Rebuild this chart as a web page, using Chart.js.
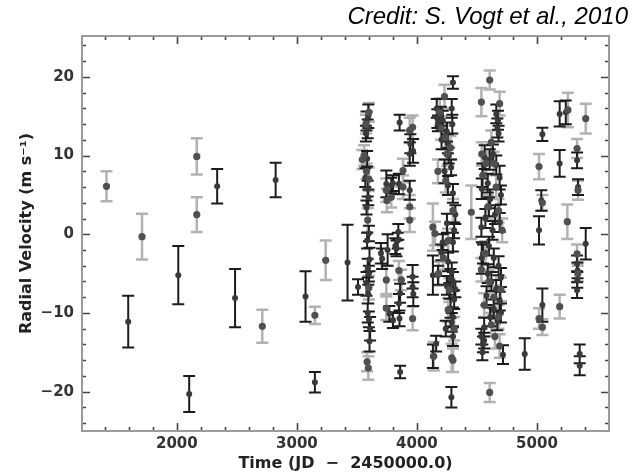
<!DOCTYPE html>
<html>
<head>
<meta charset="utf-8">
<script src="https://cdn.jsdelivr.net/npm/chart.js@4.4.1/dist/chart.umd.min.js"></script>
<style>
  html, body { margin: 0; padding: 0; background: #fff; }
  #wrap { width: 640px; height: 473px; position: relative; }
</style>
</head>
<body>
<div id="wrap"><canvas id="c" width="640" height="473"></canvas></div>
<script>
// ---- Data ----
const xTickValues = [2000, 3000, 4000, 5000];
const yTickValues = [-20, -10, 0, 10, 20];
const creditText = 'Credit: S. Vogt et al., 2010';
const xTitle = 'Time (JD  \u2212  2450000.0)';
const yTitle = 'Radial Velocity (m s\u207B\u00B9)';

// Series with light-gray error bars
const grayTime = [1414,1710,2166,2166,2712,3150,3240,
  3545,3560,3600,3580,3600,3590,3600,3585,3595,3575,
  3745,3750,3745,3745,3786,3850,3884,3884,3940,3940,3940,3964,3964,3870,
  4133,4140,4175,4190,4200,4230,4150,4235,4250,4240,4260,4270,4290,4300,4280,4300,4260,4310,4220,4180,
  4453,
  4537,4606,4689,4540,4550,4575,4620,4640,4660,4590,4680,4537,4570,4600,4640,4680,4620,4700,4560,4689,4606,4650,4710,
  5017,5045,5017,5045,5258,5189,5253,5406,5334,5342,5334,5340];
const grayRV = [6.1,-0.3,9.9,2.5,-11.7,-10.3,-3.3,
  9.5,10.0,15.5,8.0,7.0,1.8,-6.8,-16.2,-17.0,14.0,
  5.6,4.3,-5.8,-9.4,4.7,-4.6,8.1,6.0,13.2,3.5,1.8,-10.7,13.6,-5.8,
  0.9,-15.5,8.0,15.5,13.5,17.5,0.1,12.3,10.2,6.8,-0.8,-7.1,-15.7,-16.0,11.0,3.0,-9.6,-12.0,-3.0,-5.0,
  2.8,
  16.8,19.6,16.6,10.2,7.5,9.0,11.7,9.0,6.0,3.5,3.0,-4.5,-2.4,-6.0,-8.0,-10.5,-11.5,-7.0,-9.0,-14.2,-20.1,-13.0,0.5,
  8.6,4.0,-10.7,-11.8,15.8,-9.2,1.6,14.7,10.9,5.6,-2.5,-5.0];
const grayErr = [1.9,2.9,2.3,2.2,2.1,1.1,2.5,
  1.2,1.3,1.2,1.0,1.5,1.5,1.5,1.2,1.5,1.2,
  1.5,1.5,1.8,1.5,1.3,1.2,1.5,1.5,1.6,1.5,1.5,1.5,1.5,1.3,
  3.0,1.8,1.5,1.8,1.5,1.5,1.5,1.5,1.5,1.5,1.5,1.5,1.8,1.5,1.5,1.5,1.5,1.5,1.5,1.5,
  3.4,
  1.8,1.2,1.5,1.5,1.5,1.5,1.5,1.5,1.5,1.5,1.5,1.5,1.5,1.5,1.5,1.5,1.5,1.5,1.5,1.5,1.2,1.5,1.5,
  1.6,1.0,1.3,1.0,2.2,1.5,2.2,1.9,1.2,1.2,1.2,1.0];

// Series with black error bars
const darkTime = [1595,2012,2103,2336,2485,2823,3072,3150,3422,3509,
  3580,3590,3575,3595,3585,3570,3590,3595,3580,3600,3585,3605,3590,3600,3580,3595,3590,3600,3605,3610,
  3745,3756,3786,3800,3820,3856,3850,3845,3840,3830,3860,3850,3855,3860,3940,3945,3940,3964,3964,3970,3968,3770,3800,3700,3710,
  4133,4133,4160,4165,4170,4175,4200,4205,4215,4250,4258,4265,4230,4258,4300,4290,4295,4285,4300,4250,
  4203,4215,4300,4310,4175,4260,4290,4300,4270,4310,4280,4300,4290,4320,4250,4280,4300,4287,4320,4240,
  4537,4540,4545,4564,4590,4606,4610,4633,4661,4689,4700,4661,4675,4670,4680,4600,4650,4690,4570,4630,
  4550,4600,4640,4680,4700,4620,4660,4580,4690,4640,4610,4670,4560,4700,4590,4537,4550,4545,4560,4717,4540,
  4898,5045,5036,5017,5045,5189,5189,5240,5334,5342,5406,5334,5338,5336,5334,5356,5356];
const darkRV = [-11.1,-5.2,-20.3,6.1,-8.1,6.9,-7.9,-18.8,-3.6,-6.7,
  14.4,13.4,12.8,15.0,9.6,7.2,5.8,4.7,3.4,0.1,-0.8,-3.2,-4.3,-5.0,-6.3,-7.6,-10.0,-10.8,-13.6,-12.0,
  6.4,-2.0,6.2,6.5,-1.5,14.2,6.4,0.3,-0.8,-1.8,-7.5,-8.8,-10.7,-17.5,10.2,11.5,5.6,-5.4,-6.7,-7.6,10.6,-10.1,-10.9,-2.4,-3.1,
  -5.2,-15.5,-13.9,16.0,14.7,14.1,15.0,12.0,14.5,13.0,11.5,10.0,8.0,6.2,19.3,16.0,14.0,8.5,5.2,1.4,
  -2.3,-1.0,-1.0,0.5,-5.2,-3.5,-4.8,-6.0,-7.2,-8.3,-9.4,-10.5,-11.2,-7.0,-6.5,-5.6,-13.0,-20.7,2.5,-12.0,
  0.9,5.8,7.5,9.8,6.5,9.5,4.5,10.2,8.8,7.2,5.0,15.3,14.5,13.5,12.8,3.5,2.5,1.5,2.0,0.5,
  -2.5,-1.5,-3.0,-4.0,-5.5,-6.0,-7.0,-7.8,-8.5,-9.5,-10.5,-11.0,-11.8,-10.0,-5.0,-13.0,-14.0,-15.0,-13.5,-15.3,-3.0,
  -15.2,12.7,4.3,0.5,-9.0,15.3,9.0,15.5,9.4,6.0,-1.2,-3.7,-4.6,-5.8,-7.1,-15.2,-16.7];
const darkErr = [3.3,3.7,2.3,2.2,3.7,2.2,3.2,1.3,4.8,1.0,
  1.2,1.2,1.0,1.5,1.0,1.2,1.0,1.0,0.9,1.0,1.0,1.5,1.2,1.0,1.5,1.2,1.2,1.0,1.3,1.5,
  1.7,2.0,1.0,1.0,1.0,1.0,1.3,1.0,1.0,1.0,1.2,1.2,1.0,0.8,1.5,1.2,1.2,1.5,1.3,1.5,1.5,1.0,1.0,1.3,1.3,
  2.5,1.5,1.0,1.2,1.2,1.0,1.2,1.2,1.2,1.2,1.2,1.0,1.5,1.2,0.8,1.2,1.2,1.0,1.2,1.2,
  1.0,1.0,1.2,1.0,1.2,1.2,1.2,1.2,1.0,1.2,1.2,1.2,1.2,1.0,1.2,1.2,1.2,1.3,1.2,1.0,
  1.2,1.3,1.5,1.5,1.2,1.3,1.2,1.2,1.2,1.5,1.2,1.2,1.2,1.2,1.0,1.2,1.2,1.2,1.2,1.2,
  1.2,1.2,1.2,1.2,1.2,1.2,1.2,1.2,1.2,1.2,1.2,1.2,1.2,1.2,1.2,1.0,1.0,1.0,1.0,1.2,2.0,
  2.0,0.85,1.3,1.8,2.1,1.6,1.7,1.5,1.0,1.0,2.0,1.0,1.0,1.0,1.0,1.2,1.2];

// ---- Chart ----
const errorSeries = [
  { t: grayTime, v: grayRV, e: grayErr, color: '#b2b2b2', width: 2.5 },
  { t: darkTime, v: darkRV, e: darkErr, color: '#1c1c1c', width: 2 }
];

const errorBarPlugin = {
  id: 'errorBars',
  beforeDatasetsDraw(chart) {
    const { ctx, chartArea, scales: { x, y } } = chart;
    ctx.save();
    ctx.beginPath();
    ctx.rect(chartArea.left, chartArea.top, chartArea.right - chartArea.left, chartArea.bottom - chartArea.top);
    ctx.clip();
    errorSeries.forEach(s => {
      ctx.strokeStyle = s.color;
      ctx.lineWidth = s.width;
      ctx.beginPath();
      s.t.forEach((t, i) => {
        const px = x.getPixelForValue(t);
        const top = y.getPixelForValue(s.v[i] + s.e[i]);
        const bot = y.getPixelForValue(s.v[i] - s.e[i]);
        ctx.moveTo(px, top); ctx.lineTo(px, bot);
        ctx.moveTo(px - 6, top); ctx.lineTo(px + 6, top);
        ctx.moveTo(px - 6, bot); ctx.lineTo(px + 6, bot);
      });
      ctx.stroke();
    });
    ctx.restore();
  }
};

const framePlugin = {
  id: 'frame',
  afterDatasetsDraw(chart) {
    const { ctx, chartArea: a, scales: { x, y } } = chart;
    ctx.save();
    // inward ticks on all four sides
    ctx.strokeStyle = '#444';
    ctx.lineWidth = 1.6;
    ctx.beginPath();
    for (let v = 1400; v <= 5400; v += 200) {
      const px = Math.round(x.getPixelForValue(v)) + 0.5;
      const len = (v % 1000 === 0) ? 8 : 4;
      ctx.moveTo(px, a.bottom); ctx.lineTo(px, a.bottom - len);
      ctx.moveTo(px, a.top); ctx.lineTo(px, a.top + len);
    }
    for (let v = -24; v <= 24; v += 2) {
      const py = Math.round(y.getPixelForValue(v)) + 0.5;
      const len = (v % 10 === 0) ? 8 : 4;
      ctx.moveTo(a.left, py); ctx.lineTo(a.left + len, py);
      ctx.moveTo(a.right, py); ctx.lineTo(a.right - len, py);
    }
    ctx.stroke();
    // frame
    ctx.strokeStyle = '#9a9a9a';
    ctx.lineWidth = 2;
    ctx.strokeRect(a.left, a.top, a.right - a.left, a.bottom - a.top);
    ctx.restore();
  },
  afterDraw(chart) {
    const ctx = chart.ctx;
    ctx.save();
    ctx.fillStyle = '#000';
    ctx.font = 'italic 24px "Liberation Sans", Arial, sans-serif';
    ctx.textAlign = 'right';
    ctx.textBaseline = 'alphabetic';
    ctx.fillText(creditText, 628, 23.5);
    ctx.restore();
  }
};

new Chart(document.getElementById('c'), {
  type: 'scatter',
  data: {
    datasets: [
      {
        label: 'gray',
        data: grayTime.map((t, i) => ({ x: t, y: grayRV[i] })),
        pointRadius: 3.6,
        pointBackgroundColor: '#505050',
        pointBorderColor: '#505050',
        pointBorderWidth: 0
      },
      {
        label: 'dark',
        data: darkTime.map((t, i) => ({ x: t, y: darkRV[i] })),
        pointRadius: 3,
        pointBackgroundColor: '#3a3a3a',
        pointBorderColor: '#3a3a3a',
        pointBorderWidth: 0
      }
    ]
  },
  options: {
    responsive: false,
    animation: false,
    events: [],
    layout: { padding: { top: 36, right: 31, left: 0, bottom: 0 } },
    plugins: { legend: { display: false }, tooltip: { enabled: false }, title: { display: false } },
    scales: {
      x: {
        type: 'linear',
        min: 1210,
        max: 5600,
        afterFit(scale) { scale.height = 42; },
        afterBuildTicks(scale) { scale.ticks = xTickValues.map(v => ({ value: v })); },
        grid: { display: false, drawTicks: false },
        border: { display: false },
        ticks: {
          padding: 4,
          color: '#333',
          font: { family: '"DejaVu Sans"', size: 15, weight: 'bold' },
          callback: v => String(v)
        },
        title: {
          display: true,
          text: xTitle,
          color: '#222',
          font: { family: '"DejaVu Sans"', size: 16, weight: 'bold' },
          padding: { top: 0, bottom: 0 }
        }
      },
      y: {
        type: 'linear',
        min: -25,
        max: 25.2,
        afterFit(scale) { scale.width = 82; },
        afterBuildTicks(scale) { scale.ticks = yTickValues.map(v => ({ value: v })); },
        grid: { display: false, drawTicks: false },
        border: { display: false },
        ticks: {
          padding: 8,
          color: '#333',
          font: { family: '"DejaVu Sans"', size: 15, weight: 'bold' },
          callback: v => (v < 0 ? '\u2212' + Math.abs(v) : String(v))
        },
        title: {
          display: true,
          text: yTitle,
          color: '#222',
          font: { family: '"DejaVu Sans"', size: 16, weight: 'bold' },
          padding: { top: 17, bottom: 0 }
        }
      }
    }
  },
  plugins: [errorBarPlugin, framePlugin]
});
</script>
</body>
</html>
